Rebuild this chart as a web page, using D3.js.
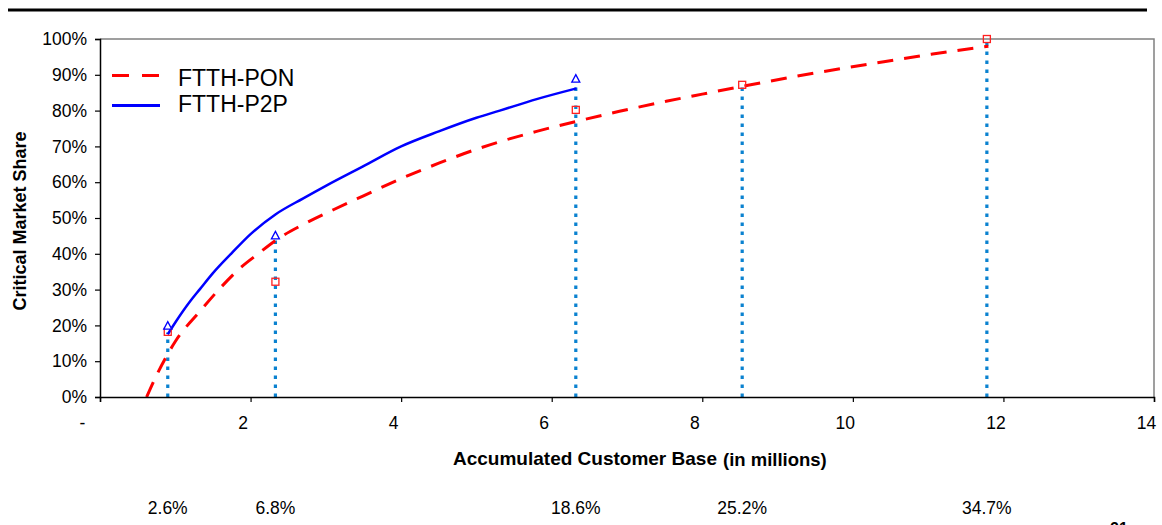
<!DOCTYPE html>
<html><head><meta charset="utf-8">
<script src="https://cdn.jsdelivr.net/npm/d3@7"></script>
<style>
body{margin:0;background:#fff;}
text{font-family:Arial,"Liberation Sans",sans-serif;fill:#000;}
</style></head>
<body><svg id="c" width="1162" height="525"></svg>
<script>
// ---- data ----
const ponX = [0.62,0.75,0.9,1.0,1.33,1.6,1.86,2.1,2.35,2.7,3.1,3.5,4.0,4.5,5.0,5.31,5.8,6.31,6.9,7.52,8.0,8.54,9.25,10.31,11.06,11.73,11.8];
const ponY = [0,6,12,15.5,24,30.5,36,40,44,48.2,52.3,56.2,61,65.3,69.2,71.3,74.2,76.9,79.8,82.6,84.6,86.8,89.6,93.3,95.8,97.8,98];
const p2pX = [0.9,1.0,1.2,1.33,1.5,1.75,2.0,2.33,2.7,3.0,3.5,4.0,4.5,5.0,5.31,5.8,6.33];
const p2pY = [17.5,20.8,26.8,30.2,34.6,40.2,45.5,51,55.5,59,64.5,70,74.2,78,80,83.2,86.2];
const markX = [0.9,2.33,6.32,8.53,11.78];
const ponMarkY = [18.2,32.2,80.2,87.2,100];
const p2pMarkY = [19.8,45,88.8];
const dropTop = [18,44,88,87,100];
const shareLabels = ["2.6%","6.8%","18.6%","25.2%","34.7%"];
const xTicks = [0,2,4,6,8,10,12,14];
const yTicks = [0,10,20,30,40,50,60,70,80,90,100];
const seriesNames = ["FTTH-PON","FTTH-P2P"];

const svg = d3.select("#c");
const x = d3.scaleLinear().domain([0,14]).range([100,1154]);
const y = d3.scaleLinear().domain([0,100]).range([397,39]);

// top rule
svg.append("line").attr("x1",8).attr("x2",1147).attr("y1",10).attr("y2",10)
  .attr("stroke","#000").attr("stroke-width",3);

// plot border (top/right gray)
svg.append("path").attr("d",`M${x(0)},${y(100)}H${x(14)}V${y(0)}`)
  .attr("fill","none").attr("stroke","#808080").attr("stroke-width",1.5);

// drop lines
svg.append("g").selectAll("line").data(markX).join("line")
  .attr("x1",d=>x(d)).attr("x2",d=>x(d))
  .attr("y1",y(0)).attr("y2",(d,i)=>y(dropTop[i]))
  .attr("stroke","#0a82d0").attr("stroke-width",3.2).attr("stroke-dasharray","3.5,5.5");

// curves
const line = d3.line().x(d=>x(d[0])).y(d=>y(d[1])).curve(d3.curveMonotoneX);
svg.append("path").datum(ponX.map((v,i)=>[v,ponY[i]])).attr("d",line)
  .attr("fill","none").attr("stroke","#ff0000").attr("stroke-width",3).attr("stroke-dasharray","16,11");
svg.append("path").datum(p2pX.map((v,i)=>[v,p2pY[i]])).attr("d",line)
  .attr("fill","none").attr("stroke","#0000ff").attr("stroke-width",2.5);

// markers
svg.append("g").selectAll("rect").data(ponMarkY).join("rect")
  .attr("x",(d,i)=>x(markX[i])-3.5).attr("y",d=>y(d)-3.5).attr("width",7).attr("height",7)
  .attr("fill","none").attr("stroke","#ff2020").attr("stroke-width",1.3);
svg.append("g").selectAll("path").data(p2pMarkY).join("path")
  .attr("d",(d,i)=>{const cx=x(markX[i]),cy=y(d);return `M${cx},${cy-4.5}L${cx+4},${cy+3}L${cx-4},${cy+3}Z`;})
  .attr("fill","#fff").attr("stroke","#0000ff").attr("stroke-width",1.3);

// axes
const yAx = svg.append("g").attr("transform",`translate(${x(0)},0)`)
  .call(d3.axisLeft(y).tickValues(yTicks).tickSize(5).tickPadding(8).tickFormat(d=>d+"%"));
const xAx = svg.append("g").attr("transform",`translate(0,${y(0)})`)
  .call(d3.axisBottom(x).tickValues(xTicks).tickSize(5).tickPadding(15).tickFormat(d=>d===0?"-":d));
[yAx,xAx].forEach(g=>{
  g.select(".domain").attr("stroke","#000").attr("stroke-width",1.5);
  g.selectAll(".tick line").attr("stroke","#000").attr("stroke-width",1.2);
  g.selectAll("text").style("font-family","Arial,'Liberation Sans',sans-serif").attr("font-size",17.5).attr("fill","#000");
});
xAx.selectAll(".tick text").attr("dx",d=>d===0?-18:-8);

// axis titles
svg.append("text").attr("transform","translate(26,221) rotate(-90)").attr("text-anchor","middle")
  .attr("font-size",18).attr("font-weight","bold").text("Critical Market Share");
const xt = svg.append("text").attr("x",453).attr("y",465).attr("font-size",19).attr("font-weight","bold");
xt.append("tspan").text("Accumulated Customer Base");
xt.append("tspan").attr("dx",6).attr("dy",1).attr("font-size",18.5).text("(in millions)");

// legend
const lg = svg.append("g");
lg.append("line").attr("x1",112).attr("x2",160).attr("y1",75.5).attr("y2",75.5)
  .attr("stroke","#ff0000").attr("stroke-width",3).attr("stroke-dasharray","17,13");
lg.append("line").attr("x1",112).attr("x2",160).attr("y1",105.5).attr("y2",105.5)
  .attr("stroke","#0000ff").attr("stroke-width",3);
lg.selectAll("text").data(seriesNames).join("text")
  .attr("x",178).attr("y",(d,i)=>[85.5,112][i]).attr("font-size",23).text(d=>d);

// share labels below
svg.append("g").selectAll("text").data(shareLabels).join("text")
  .attr("x",(d,i)=>x(markX[i])).attr("y",514).attr("text-anchor","middle")
  .attr("font-size",17.5).text(d=>d);

// clipped page number (cut off at the bottom edge, as in the reference)
svg.append("text").attr("x",1110).attr("y",534).attr("font-size",16).attr("font-weight","bold").text("21");
</script></body></html>
